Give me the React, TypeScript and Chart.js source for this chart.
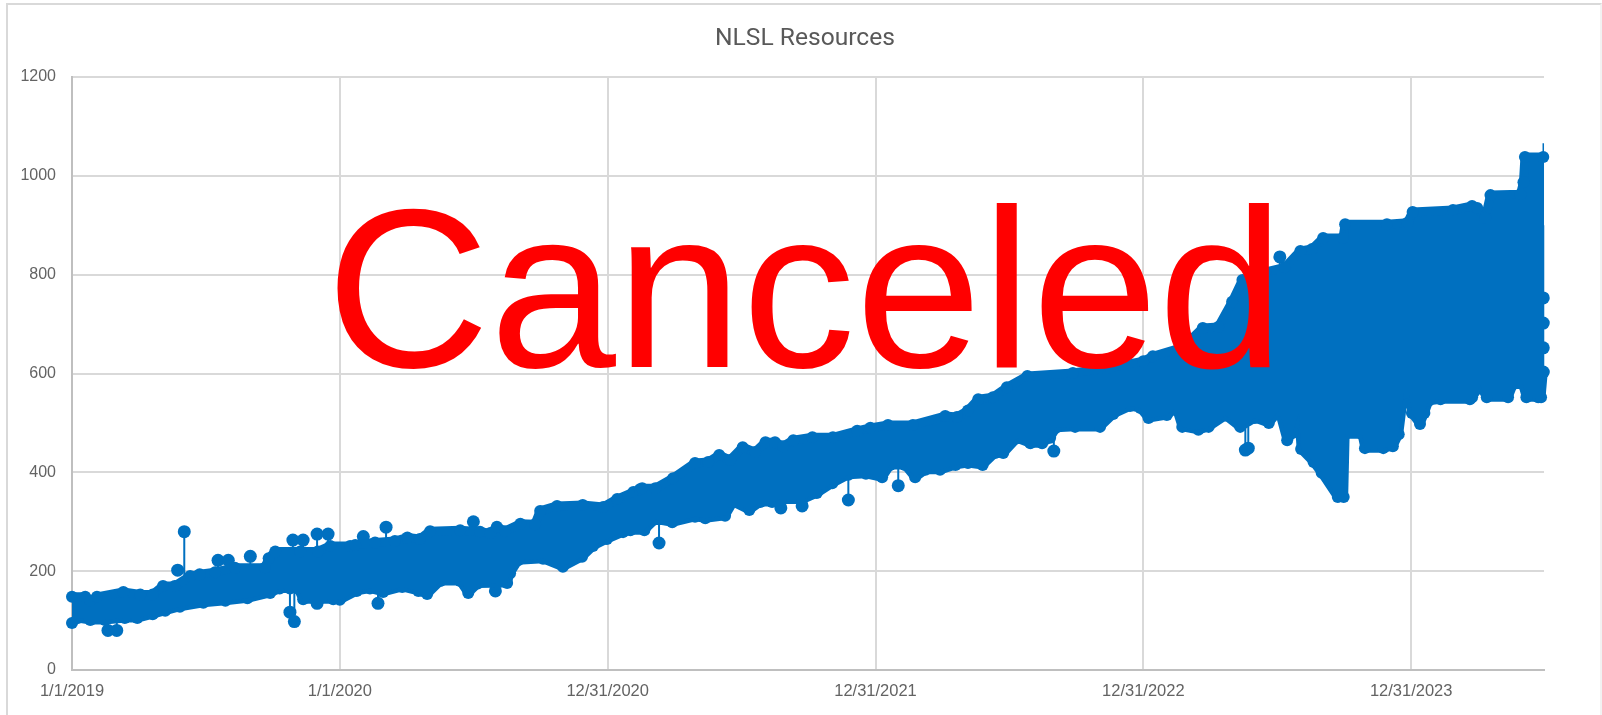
import React, { useEffect, useRef } from "react";
import { Chart, registerables } from "chart.js";

Chart.register(...registerables);

const chartTitle = "NLSL Resources";
const stampText = "Canceled";
const xTickLabels = ["1/1/2019", "1/1/2020", "12/31/2020", "12/31/2021", "12/31/2022", "12/31/2023"];

// x values are days since 1/1/2019
const upperDays = [0, 18, 25, 34, 70, 93, 110, 124, 140, 161, 174, 195, 222, 263, 268, 277, 311, 335, 352, 379, 386, 413, 440, 457, 474, 488, 529, 556, 570, 579, 590, 611, 631, 638, 661, 696, 724, 743, 765, 774, 777, 795, 819, 849, 867, 882, 897, 914, 931, 945, 958, 969, 983, 1009, 1037, 1070, 1088, 1112, 1146, 1190, 1206, 1221, 1235, 1255, 1274, 1302, 1364, 1415, 1460, 1473, 1514, 1541, 1562, 1581, 1595, 1626, 1653, 1674, 1690, 1705, 1732, 1735, 1792, 1820, 1827, 1882, 1908, 1915, 1926, 1933, 1974, 1978, 1980, 2005];
const upperValues = [148, 148, 140, 148, 158, 153, 153, 170, 170, 190, 194, 198, 207, 207, 226, 240, 240, 240, 251, 251, 253, 258, 261, 268, 265, 281, 283, 280, 277, 290, 281, 296, 295, 322, 332, 334, 330, 346, 360, 366, 368, 368, 388, 419, 421, 435, 425, 451, 441, 461, 461, 453, 465, 471, 471, 484, 490, 496, 496, 514, 512, 525, 548, 552, 572, 595, 601, 612, 625, 635, 653, 692, 694, 745, 789, 805, 815, 848, 852, 874, 874, 902, 902, 905, 927, 931, 939, 935, 915, 961, 963, 987, 1038, 1038];

const lowerDays = [0, 8, 25, 45, 72, 89, 110, 127, 147, 179, 209, 239, 270, 283, 297, 308, 315, 356, 365, 388, 406, 424, 450, 472, 484, 502, 529, 540, 553, 593, 597, 608, 642, 669, 695, 710, 729, 751, 761, 780, 795, 818, 849, 863, 890, 901, 923, 938, 954, 966, 995, 1015, 1036, 1058, 1082, 1104, 1115, 1135, 1149, 1163, 1183, 1204, 1221, 1241, 1258, 1269, 1288, 1306, 1322, 1333, 1341, 1367, 1401, 1419, 1442, 1456, 1467, 1492, 1505, 1513, 1535, 1549, 1572, 1592, 1612, 1631, 1645, 1656, 1664, 1672, 1675, 1692, 1703, 1725, 1733, 1735, 1758, 1762, 1787, 1800, 1808, 1815, 1822, 1826, 1837, 1843, 1849, 1865, 1905, 1908, 1919, 1928, 1957, 1964, 1977, 1982, 1998, 2002, 2005];
const lowerValues = [95, 105, 101, 101, 105, 105, 113, 120, 128, 136, 140, 145, 156, 165, 165, 165, 143, 143, 142, 160, 165, 158, 168, 160, 154, 180, 180, 156, 175, 176, 196, 222, 225, 209, 229, 251, 265, 279, 283, 283, 305, 299, 310, 307, 312, 340, 324, 340, 340, 345, 345, 358, 378, 395, 397, 390, 415, 415, 390, 405, 405, 415, 419, 415, 439, 439, 469, 459, 459, 470, 490, 492, 492, 518, 534, 530, 510, 516, 530, 492, 486, 492, 515, 492, 510, 500, 525, 465, 480, 520, 447, 421, 399, 350, 350, 477, 477, 449, 449, 453, 477, 560, 560, 520, 498, 520, 545, 548, 548, 552, 575, 552, 552, 578, 578, 552, 552, 552, 603];

// markers standing clear of the band, each joined to the band by a thin stem
const spikeDays = [144, 153, 199, 213, 243, 301, 315, 334, 349, 397, 428, 547, 49, 61, 297, 303, 334, 417, 577, 800, 966, 995, 1058, 1126, 1338, 1599, 1603, 1646, 2005, 2005, 2005, 2005];
const spikeValues = [202, 280, 222, 222, 230, 263, 263, 275, 275, 270, 289, 300, 80, 80, 117, 98, 135, 135, 160, 257, 328, 332, 344, 373, 443, 445, 449, 836, 753, 702, 652, 603];
const spikeBases = [190, 190, 200, 200, 205, 235, 235, 245, 245, 250, 255, 280, 105, 105, 165, 165, 150, 165, 190, 310, 345, 345, 395, 415, 470, 492, 492, 800, 900, 900, 900, 900];

const tailDays = [2005, 2005];
const tailValues = [546, 1066];

const BLUE = "#0070c0";
const GRID = "#d9d9d9";
const AXIS = "#bfbfbf";
const TEXT = "#636363";

export default function App() {
  const ref = useRef<HTMLCanvasElement>(null);
  useEffect(() => {
    const spikePoints: any[] = [];
    spikeDays.forEach((d, i) => {
      spikePoints.push({ x: d, y: spikeBases[i] }, { x: d, y: spikeValues[i] }, { x: d, y: null });
    });
    const chart = new Chart(ref.current as HTMLCanvasElement, {
      type: "line",
      data: {
        datasets: [
          {
            label: "Upper",
            data: upperDays.map((d, i) => ({ x: d, y: upperValues[i] })),
            borderColor: BLUE,
            backgroundColor: BLUE,
            borderWidth: 9,
            borderJoinStyle: "round",
            borderCapStyle: "round",
            pointRadius: 6,
            pointBorderWidth: 0,
            pointBackgroundColor: BLUE,
            tension: 0,
            fill: "+1",
            clip: false,
          },
          {
            label: "Lower",
            data: lowerDays.map((d, i) => ({ x: d, y: lowerValues[i] })),
            borderColor: BLUE,
            backgroundColor: BLUE,
            borderWidth: 9,
            borderJoinStyle: "round",
            borderCapStyle: "round",
            pointRadius: 6,
            pointBorderWidth: 0,
            pointBackgroundColor: BLUE,
            tension: 0,
            fill: false,
            clip: false,
          },
          {
            label: "Spikes",
            data: spikePoints,
            borderColor: BLUE,
            backgroundColor: BLUE,
            borderWidth: 2,
            pointRadius: (c: any) => (c.index % 3 === 1 ? 6.5 : 0),
            pointBorderWidth: 0,
            spanGaps: false,
            tension: 0,
            fill: false,
            clip: false,
          },
          {
            label: "Tail",
            data: tailDays.map((d, i) => ({ x: d, y: tailValues[i] })),
            borderColor: BLUE,
            borderWidth: 1.5,
            pointRadius: 0,
            fill: false,
            clip: false,
          },
        ],
      } as any,
      options: {
        animation: false,
        responsive: false,
        layout: { padding: 0 },
        plugins: {
          legend: { display: false },
          tooltip: { enabled: false },
          title: {
            display: true,
            text: chartTitle,
            color: "#595959",
            font: { family: "Roboto", size: 24.6, weight: "normal", lineHeight: 1.2 },
            padding: { top: 24, bottom: 23.5 },
          },
        },
        scales: {
          x: {
            type: "linear",
            min: 0,
            max: 2006,
            afterFit: (s: any) => {
              s.height = 45;
            },
            ticks: {
              stepSize: 365,
              includeBounds: false,
              autoSkip: false,
              maxRotation: 0,
              padding: 12,
              color: TEXT,
              font: { family: "Liberation Sans", size: 16.5 },
              callback: (_v: any, i: number) => xTickLabels[i],
            },
            grid: { color: GRID, lineWidth: 2, drawTicks: false },
            border: { color: AXIS, width: 2 },
          },
          y: {
            type: "linear",
            min: 0,
            max: 1200,
            afterFit: (s: any) => {
              s.width = 64;
            },
            ticks: {
              stepSize: 200,
              padding: 16,
              color: TEXT,
              font: { family: "Liberation Sans", size: 16 },
              callback: (v: any) => String(v),
            },
            grid: { color: GRID, lineWidth: 2, drawTicks: false },
            border: { color: AXIS, width: 2 },
          },
          spacer: {
            type: "linear",
            position: "right",
            min: 0,
            max: 1,
            afterFit: (s: any) => {
              s.width = 58;
            },
            ticks: { display: false },
            grid: { display: false, drawTicks: false },
            border: { display: false },
          },
        },
      } as any,
    });
    return () => chart.destroy();
  }, []);

  return (
    <div style={{ position: "fixed", left: 0, top: 0, width: 1602, height: 715, overflow: "hidden", background: "#fff" }}>
      <canvas ref={ref} width={1594} height={715} style={{ position: "absolute", left: 8, top: 0, width: 1594, height: 715 }} />
      <div
        style={{
          position: "absolute",
          left: 6,
          top: 3,
          width: 1592,
          height: 730,
          border: "2px solid #d9d9d9",
          borderRightColor: "#f2f2f2",
          pointerEvents: "none",
        }}
      />
      <div
        style={{
          position: "absolute",
          left: 326,
          top: 176,
          fontFamily: "Liberation Sans",
          fontSize: 226.8,
          lineHeight: "226.8px",
          color: "#ff0000",
          whiteSpace: "nowrap",
        }}
      >
        {stampText}
      </div>
    </div>
  );
}
